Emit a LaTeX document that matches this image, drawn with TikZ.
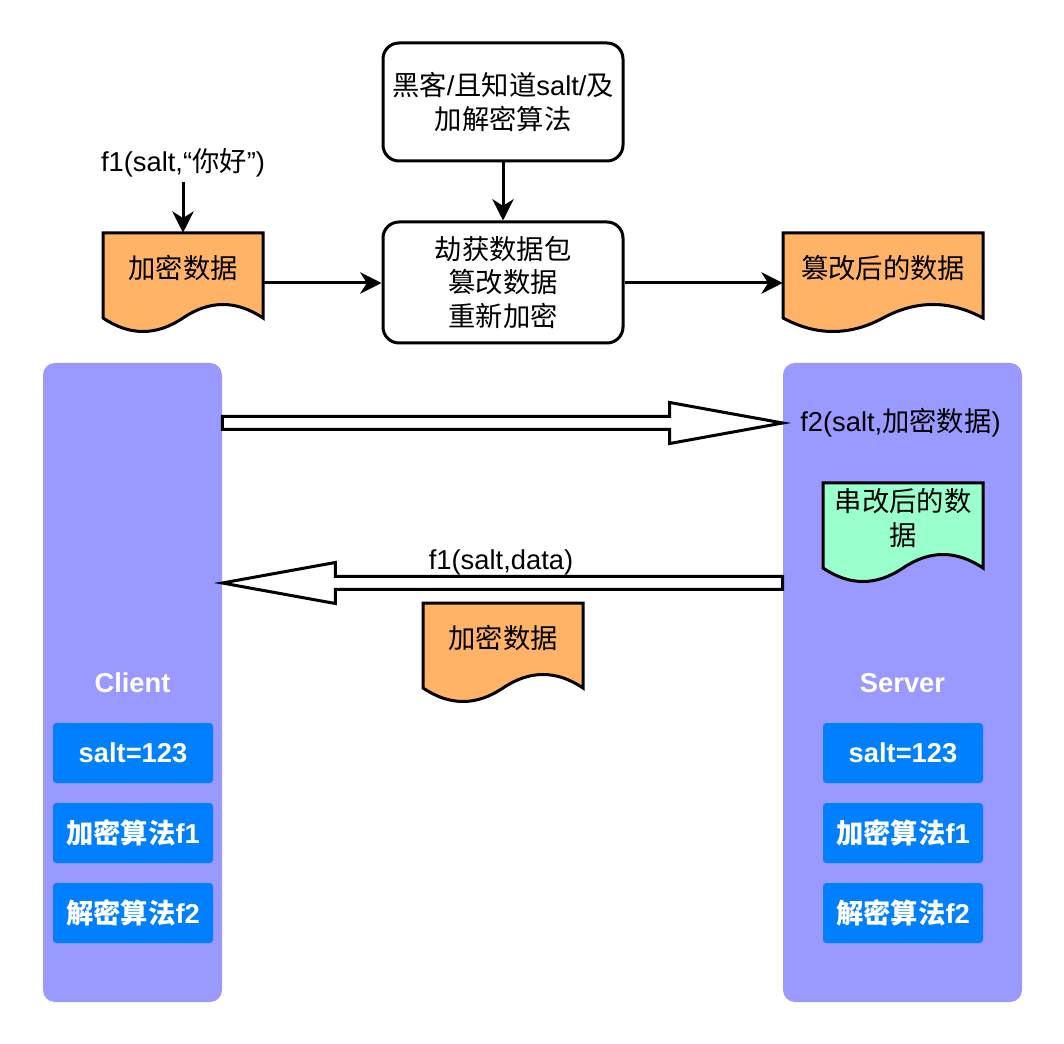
\documentclass[tikz,border=0pt]{standalone}
\usepackage{fontspec}
\setmainfont{Liberation Sans}
\newfontfamily\cjk{Noto Sans CJK SC}
\newcommand\zh[1]{{\cjk #1}}
\usetikzlibrary{arrows.meta,calc}
\definecolor{docorange}{HTML}{FFB366}
\definecolor{docgreen}{HTML}{99FFCC}
\definecolor{lane}{HTML}{9999FF}
\definecolor{boxblue}{HTML}{007FFF}
\tikzset{
 txt/.style={font=\fontsize{20.5pt}{25pt}\selectfont, align=center, inner sep=0pt},
 rbox/.style={txt, draw, line width=2.25pt, rounded corners=12pt, minimum width=180pt},
 docframe/.style={inner sep=0pt, minimum height=75pt},
 docline/.style={draw, line width=2.25pt},
 conn/.style={line width=2.25pt, -{Stealth[length=16pt,width=16pt,inset=5pt]}},
 hollow/.style={draw, line width=2.25pt, fill=white, miter limit=12},
 lanebox/.style={fill=lane, rounded corners=9pt, inner sep=0pt},
 lanetitle/.style={inner sep=0pt, text=white, font=\fontsize{20.5pt}{25pt}\selectfont\bfseries},
 keybox/.style={fill=boxblue, rounded corners=2.5pt, minimum width=120pt, minimum height=45pt, inner sep=0pt, text=white, font=\fontsize{20.5pt}{25pt}\selectfont\bfseries},
}
\newcommand\docnode[6]{% name, x, y, w, fill, text
 \node[docframe, minimum width={#4*0.75pt}] (#1) at ({#2+#4/2},{#3+50}) {};
 \path[docline, fill=#5] (#2,#3) -- ({#2+#4},#3) -- ({#2+#4},{#3+85})
   .. controls ({#2+5*#4/6},{#3+67}) and ({#2+2*#4/3},{#3+67}) .. ({#2+#4/2},{#3+85})
   .. controls ({#2+#4/3},{#3+103}) and ({#2+#4/6},{#3+103}) .. (#2,{#3+85}) -- cycle;
 \node[txt] (#1-t) at ({#2+#4/2},{#3+35}) {#6};
}
\begin{document}
\begin{tikzpicture}[x=0.75pt,y=-0.75pt]
\useasboundingbox[fill=white] (0,0) rectangle (1064,1044);
% lanes
\node[lanebox, minimum width=134.25pt, minimum height=479.25pt] (client) at (132.5,682.5) {};
\node[lanebox, minimum width=179.25pt, minimum height=479.25pt] (server) at (902.5,682.5) {};
\node[lanetitle] (clientT) at (132.5,683) {Client};
\node[lanetitle] (serverT) at (902.5,683) {Server};
\node[keybox] (cSalt) at (133,753) {salt=123};
\node[keybox] (cEnc) at (133,833) {\zh{加密算法}f1};
\node[keybox] (cDec) at (133,913) {\zh{解密算法}f2};
\node[keybox] (sSalt) at (903,753) {salt=123};
\node[keybox] (sEnc) at (903,833) {\zh{加密算法}f1};
\node[keybox] (sDec) at (903,913) {\zh{解密算法}f2};
% top
\node[rbox, minimum height=88.5pt] (hacker) at (503,102) {\zh{黑客}/\zh{且知道}salt/\zh{及}\\\zh{加解密算法}};
\node[rbox, minimum height=90.75pt] (intercept) at (503,282.5) {\zh{劫获数据包}\\\zh{篡改数据}\\\zh{重新加密}};
\docnode{plain}{103}{233}{160}{docorange}{\zh{加密数据}}
\docnode{tampered}{783}{233}{200}{docorange}{\zh{篡改后的数据}}
\node[txt, inner sep=3pt] (f1in) at (183,163) {f1(salt,“\zh{你好}”)};
\draw[conn] (f1in) -- (plain);
\draw[conn] (hacker) -- (intercept);
\draw[conn] (plain.east) -- (plain.east -| intercept.west);
\draw[conn] (intercept.east |- tampered.west) -- (tampered.west);
% hollow arrows
\coordinate (rA) at (client.east |- 0,423);
\coordinate (rB) at (server.west |- 0,423);
\path[hollow] ($(rA)+(0,-6.5)$) -- ($(rB)+(-113,-6.5)$) -- ($(rB)+(-113,-20.5)$) -- (rB)
  -- ($(rB)+(-113,20.5)$) -- ($(rB)+(-113,6.5)$) -- ($(rA)+(0,6.5)$) -- cycle;
\coordinate (lA) at (server.west |- 0,583);
\coordinate (lB) at (client.east |- 0,583);
\path[hollow] ($(lA)+(0,-6.5)$) -- ($(lB)+(113,-6.5)$) -- ($(lB)+(113,-20.5)$) -- (lB)
  -- ($(lB)+(113,20.5)$) -- ($(lB)+(113,6.5)$) -- ($(lA)+(0,6.5)$) -- cycle;
\node[txt, anchor=west] (f2lab) at (800,423) {f2(salt,\zh{加密数据})};
\node[txt] (f1lab) at (501,562) {f1(salt,data)};
\docnode{tamperedS}{823}{483}{160}{docgreen}{\zh{串改后的数}\\\zh{据}}
\docnode{cipher}{423}{603}{160}{docorange}{\zh{加密数据}}
\end{tikzpicture}
\end{document}
